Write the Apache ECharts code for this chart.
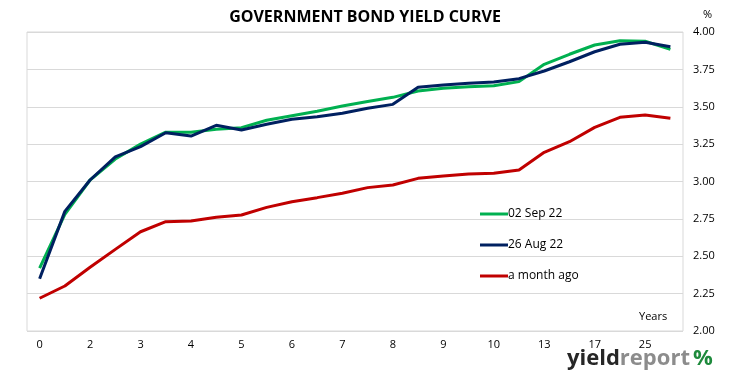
<!DOCTYPE html>
<html><head><meta charset="utf-8">
<script src="https://cdn.jsdelivr.net/npm/echarts@6/dist/echarts.min.js"></script>
<style>html,body{margin:0;padding:0;background:#fff}#c{width:730px;height:381px}</style>
</head><body><div id="c"></div>
<script>
const categories = ["0","1","2","2.5","3","3.5","4","4.5","5","5.5","6","6.5","7","7.5","8","8.5","9","9.5","10","12","13","15","17","21","25","30"];
const sep02 = [2.42,2.78,3.01,3.15,3.25,3.33,3.33,3.35,3.36,3.41,3.44,3.47,3.505,3.535,3.563,3.605,3.623,3.634,3.641,3.668,3.784,3.851,3.913,3.942,3.938,3.884];
const aug26 = [2.35,2.80,3.01,3.165,3.233,3.326,3.304,3.376,3.344,3.383,3.416,3.433,3.456,3.49,3.516,3.630,3.645,3.657,3.666,3.688,3.739,3.801,3.868,3.918,3.931,3.902];
const monthAgo = [2.219,2.301,2.426,2.546,2.664,2.731,2.736,2.761,2.776,2.827,2.865,2.892,2.921,2.959,2.977,3.021,3.037,3.050,3.055,3.077,3.195,3.266,3.362,3.429,3.445,3.423];
const seriesNames = ["02 Sep 22","26 Aug 22","a month ago"];
const yTicks = {min:2, max:4, step:0.25};

const chart = echarts.init(document.getElementById('c'));
const FONT = '"Open Sans", "Liberation Sans", sans-serif';
const colors = ['#00b050','#002060','#c00000'];
const mk = (name, data, i) => ({
  name, type:'line', data, showSymbol:false, symbol:'none', smooth:false,
  lineStyle:{width:3, color:colors[i]}, itemStyle:{color:colors[i]}, z: 2 + i
});
chart.setOption({
  animation:false,
  textStyle:{fontFamily:FONT},
  title:{text:'GOVERNMENT BOND YIELD CURVE', left:'center', top:4,
    textStyle:{fontSize:16, fontWeight:'bold', color:'#000', fontFamily:FONT}},
  grid:{left:27, right:47, top:32, bottom:50, show:true, borderColor:'#d9d9d9', borderWidth:1},
  legend:{orient:'vertical', left:475, top:203, itemGap:19, itemWidth:28, itemHeight:3,
    icon:'rect', data:seriesNames,
    textStyle:{fontSize:12, color:'#000', fontFamily:FONT, padding:[0,0,0,-5]}},
  xAxis:{type:'category', data:categories, boundaryGap:true,
    axisLine:{show:false}, axisTick:{show:false},
    axisLabel:{interval:1, fontSize:11, color:'#000', margin:8, fontFamily:FONT}},
  yAxis:{type:'value', position:'right', min:yTicks.min, max:yTicks.max, interval:yTicks.step,
    name:'%', nameLocation:'end', nameGap:12, nameTextStyle:{fontSize:11, color:'#000', align:'left', padding:[0,0,0,20]},
    axisLine:{show:false}, axisTick:{show:false},
    axisLabel:{fontSize:11, color:'#000', margin:10, formatter:v=>v.toFixed(2)},
    splitLine:{lineStyle:{color:'#d9d9d9', width:1}}},
  graphic:[
    {type:'text', left:639, top:311, style:{text:'Years', fontSize:11, fill:'#000', fontFamily:FONT}},
    {type:'text', left:567, top:348, style:{
      text:'{a|yield}{b|report} {c|%}', fontFamily:FONT,
      rich:{a:{fontSize:22, fontWeight:'bold', fill:'#262626', fontFamily:FONT},
            b:{fontSize:22, fontWeight:'bold', fill:'#8c8c8c', fontFamily:FONT},
            c:{fontSize:22, fontWeight:'bold', fill:'#1e8a3c', fontFamily:FONT}}}}
  ],
  series:[mk(seriesNames[0], sep02, 0), mk(seriesNames[1], aug26, 1), mk(seriesNames[2], monthAgo, 2)]
});
</script></body></html>
